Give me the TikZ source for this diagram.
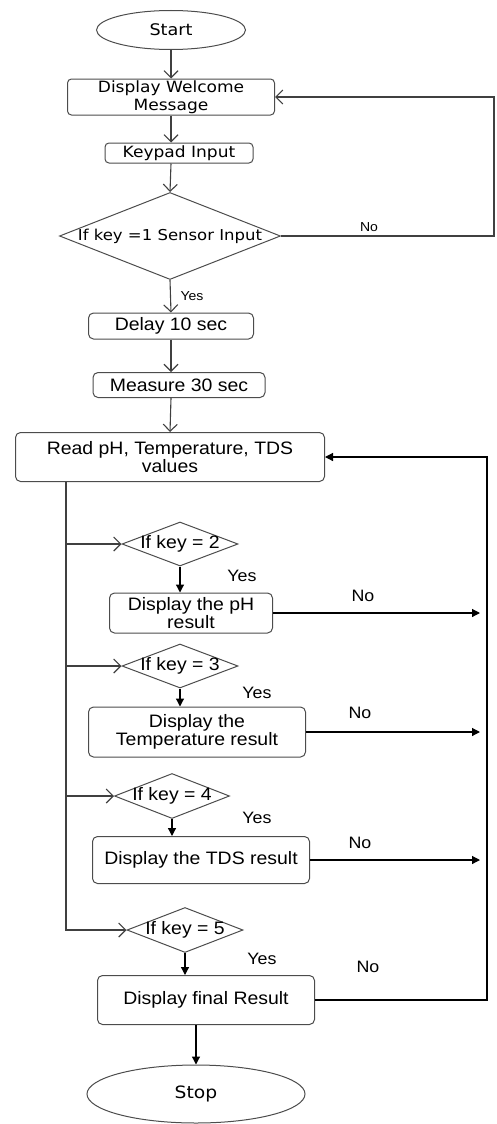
\documentclass[tikz,border=0pt]{standalone}
\usepackage{fontspec}
\usetikzlibrary{shapes.geometric,arrows.meta}
\newfontfamily\topfont{DejaVu Sans}[FakeStretch=1.1]
\newfontfamily\lowfont{Liberation Sans}[FakeStretch=1.08]

\begin{document}
\begin{tikzpicture}[x=1pt,y=-1pt,
  term/.style={ellipse,draw=black!70,line width=1pt,inner sep=0pt,font=\topfont\fontsize{16}{18}\selectfont},
  topbox/.style={rectangle,rounded corners=4pt,draw=black!70,line width=1pt,inner sep=0pt,align=center,font=\topfont\fontsize{15.5}{18}\selectfont},
  lowbox/.style={rectangle,rounded corners=5pt,draw=black!70,line width=1pt,inner sep=0pt,align=center,font=\lowfont\fontsize{18}{18}\selectfont},
  cond/.style={diamond,draw=black!70,line width=1pt,inner sep=0pt},
  condtext/.style={font=\lowfont\fontsize{18}{18}\selectfont},
  tag/.style={font=\lowfont\fontsize{16.5}{18}\selectfont},
  openarr/.style={draw=black!75,line width=1.1pt,-{Straight Barb[length=7pt,width=14pt]}},
  fillarr/.style={draw=black,line width=1.2pt,-{Triangle[length=8pt,width=8pt]}}]
\useasboundingbox (0,0) rectangle (496,1124);
%Start and welcome
  \node[term,minimum width=149,minimum height=39] (start) at (171,30) {Start};
  \node[topbox,minimum width=207,minimum height=36] (welcome) at (171,97) {Display Welcome\\Message};
  \node[topbox,minimum width=148,minimum height=20] (keypad) at (179,153) {Keypad Input};
  \node[cond,minimum width=221,minimum height=87,
    label={[font=\topfont\fontsize{15}{18}\selectfont]center:If key =1 Sensor Input}] (key1) at (170,236) {};
  \draw[openarr] (start) -- (welcome);
  \draw[openarr] (welcome.south) -- (welcome.south |- keypad.north);
  \draw[openarr] (keypad.south -| welcome.south) -- (key1.north);
% back to welcome
  \draw[openarr] (key1.east) -- ++(213,0) |- (welcome.east);
  \node[font=\lowfont\fontsize{13}{14}\selectfont] (no1) at (369,227) {No};
  \node[font=\lowfont\fontsize{13}{14}\selectfont] (yes1) at (192,296) {Yes};
%Delay and measure
  \node[lowbox,minimum width=165,minimum height=26] (delay) at (171,326) {Delay 10 sec};
  \node[lowbox,minimum width=172,minimum height=25] (measure) at (179,385) {Measure 30 sec};
  \node[lowbox,minimum width=309,minimum height=49] (read) at (170,457) {Read pH, Temperature, TDS\\values};
  \draw[openarr] (key1.south) -- (delay.north);
  \draw[openarr] (delay.south) -- (delay.south |- measure.north);
  \draw[openarr] (measure.south -| delay.south) -- (read.north);
%Key 2
  \node[cond,minimum width=116,minimum height=44,label={[condtext]center:If key = 2}] (key2) at (180,544) {};
  \node[lowbox,minimum width=163,minimum height=40] (ph) at (191,613) {Display the pH\\result};
  \draw[fillarr] (key2.south) -- (key2.south |- ph.north);
  \node[tag] (yes2) at (242,576) {Yes};
  \node[tag] (no2) at (363,596) {No};
%Key 3
  \node[cond,minimum width=116,minimum height=44,label={[condtext]center:If key = 3}] (key3) at (180,666) {};
  \node[lowbox,minimum width=217,minimum height=50] (temp) at (197,732) {Display the\\Temperature result};
  \draw[fillarr] (key3.south) -- (key3.south |- temp.north);
  \node[tag] (yes3) at (257,693) {Yes};
  \node[tag] (no3) at (360,713) {No};
%Key 4
  \node[cond,minimum width=115,minimum height=45,label={[condtext]center:If key = 4}] (key4) at (172,796) {};
  \node[lowbox,minimum width=217,minimum height=47] (tds) at (201,860) {Display the TDS result};
  \draw[fillarr] (key4.south) -- (key4.south |- tds.north);
  \node[tag] (yes4) at (257,818) {Yes};
  \node[tag] (no4) at (360,843) {No};
%Key 5
  \node[cond,minimum width=116,minimum height=45,label={[condtext]center:If key = 5}] (key5) at (185,930) {};
  \node[lowbox,minimum width=217,minimum height=49] (final) at (206,1000) {Display final Result};
  \draw[fillarr] (key5.south) -- (key5.south |- final.north);
  \node[tag] (yes5) at (262,959) {Yes};
  \node[tag] (no5) at (368,967) {No};
  \node[term,minimum width=218,minimum height=58,font=\topfont\fontsize{17}{18}\selectfont] (stop) at (196,1094) {Stop};
  \draw[fillarr] (final.south -| stop.north) -- (stop.north);
% left branch
  \draw[openarr] ([xshift=-104]read.south) |- (key2.west);
  \draw[openarr] ([xshift=-104]read.south) |- (key3.west);
  \draw[openarr] ([xshift=-104]read.south) |- (key4.west);
  \draw[openarr] ([xshift=-104]read.south) |- (key5.west);
% right loop
  \draw[fillarr] (final.east) -| ([xshift=162]read.east) -- (read.east);
  \draw[fillarr] (ph.east) -- ([xshift=155]read.east |- ph.east);
  \draw[fillarr] (temp.east) -- ([xshift=155]read.east |- temp.east);
  \draw[fillarr] (tds.east) -- ([xshift=155]read.east |- tds.east);
\end{tikzpicture}
\end{document}
